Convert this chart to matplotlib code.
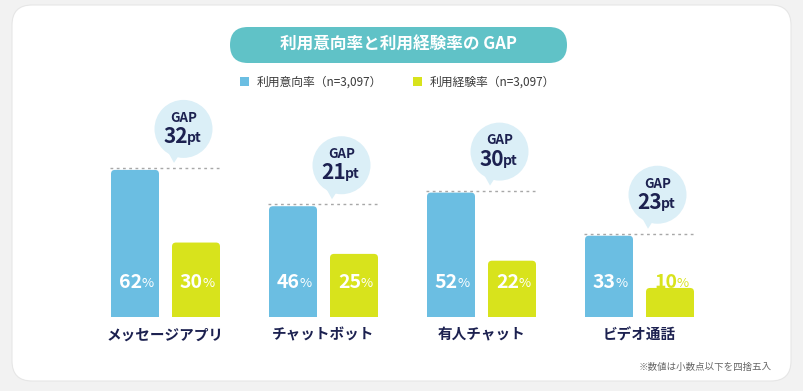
import matplotlib
matplotlib.use("Agg")
import matplotlib.pyplot as plt
from matplotlib.patches import FancyBboxPatch, Ellipse, Polygon, Rectangle

plt.rcParams['font.family'] = ['Noto Sans CJK JP', 'DejaVu Sans']

# ---------------- DATA ----------------
categories = ["メッセージアプリ", "チャットボット", "有人チャット", "ビデオ通話"]
intent = [62, 46, 52, 33]
experience = [30, 25, 22, 10]
gaps = [32, 21, 30, 23]
legend_labels = ["利用意向率（n=3,097）", "利用経験率（n=3,097）"]
title = "利用意向率と利用経験率の GAP"
note = "※数値は小数点以下を四捨五入"
# --------------------------------------

BLUE = "#6BBEE2"
LIME = "#D8E31C"
NAVY = "#1C2150"
TEAL = "#60C2C7"
BUBBLE = "#DBEFF7"

W, H = 804, 391
PXX = 158.0   # px per group
PXY = 2.27    # px per percent
Y0 = -2.8     # data value at the baseline

fig = plt.figure(figsize=(W / 100, H / 100), dpi=100, facecolor="#F2F2F2")

# background card, title pill, legend, note (pixel coordinates)
bg = fig.add_axes([0, 0, 1, 1], zorder=0)
bg.set_xlim(0, W)
bg.set_ylim(H, 0)
bg.axis("off")
bg.add_patch(FancyBboxPatch((12, 5), 779, 376, boxstyle="round,pad=0,rounding_size=20",
                            fc="white", ec="#E6E6E6", lw=0.8))
bg.add_patch(FancyBboxPatch((230, 27), 337, 36, boxstyle="round,pad=0,rounding_size=18",
                            fc=TEAL, ec="none"))
bg.text(398.5, 45, title, color="white", fontsize=12, fontweight="bold",
        ha="center", va="center")
for x0, col, lab in [(240, BLUE, legend_labels[0]), (413, LIME, legend_labels[1])]:
    bg.add_patch(Rectangle((x0, 77), 9, 9, fc=col, ec="none"))
    bg.text(x0 + 17, 82, lab, color="#3A3A3A", fontsize=8.5, ha="left", va="center")
bg.text(772, 367, note, color="#666666", fontsize=6.8, ha="right", va="center")

# main bar axes
left_px, right_px, top_px, base_px = 80, 730, 95, 317
ax = fig.add_axes([left_px / W, (H - base_px) / H, (right_px - left_px) / W, (base_px - top_px) / H],
                  zorder=1)
ax.patch.set_alpha(0)
ax.set_xlim(-(165.5 - left_px) / PXX, (right_px - 165.5) / PXX)
ax.set_ylim(Y0, Y0 + (base_px - top_px) / PXY)
ax.axis("off")

bw = 48 / PXX
off = 30.5 / PXX
ma = (1 / PXY) / (1 / PXX)
label_y = Y0 + 35 / PXY


def bar(x, v, color):
    ax.add_patch(FancyBboxPatch((x - bw / 2, Y0 - 10), bw, v - Y0 + 10,
                                boxstyle="round,pad=0,rounding_size=%f" % (4 / PXX),
                                mutation_aspect=ma, fc=color, ec="none"))


def pct(x, v, color):
    ax.annotate(str(v), (x, label_y), xytext=(5, 0), textcoords="offset points",
                ha="right", va="center", color=color, fontsize=14, fontweight="bold")
    ax.annotate("%", (x, label_y), xytext=(4.5, -0.8), textcoords="offset points",
                ha="left", va="center", color=color, fontsize=9.5)


for i, (a, b, g, cat) in enumerate(zip(intent, experience, gaps, categories)):
    bar(i - off, a, BLUE)
    bar(i + off, b, LIME)
    pct(i - off, a, "white" if a > 20 else BLUE)
    pct(i + off, b, "white" if b > 20 else LIME)

    # dotted gap line
    ax.plot([i - 55.5 / PXX, i + 56.5 / PXX], [a + 2 / PXY] * 2, color="#A8A8A8",
            lw=1, ls=(0, (2, 2.5)), solid_capstyle="butt")

    # speech bubble
    cx, cy = i + 18 / PXX, a + 41 / PXY
    ax.add_patch(Ellipse((cx, cy), 58 / PXX, 58 / PXY, fc=BUBBLE, ec="none"))
    ax.add_patch(Polygon([(i + 3 / PXX, a + 17 / PXY), (i + 15 / PXX, a + 17 / PXY),
                          (i + 8.5 / PXX, a + 7 / PXY)], closed=True, fc=BUBBLE, ec="none"))
    ax.annotate("GAP", (cx, cy), xytext=(0, 8), textcoords="offset points",
                ha="center", va="center", color=NAVY, fontsize=9.5, fontweight="bold")
    ax.annotate(str(g), (cx, cy), xytext=(3, -5.5), textcoords="offset points",
                ha="right", va="center", color=NAVY, fontsize=15, fontweight="bold")
    ax.annotate("pt", (cx, cy), xytext=(2.5, -6.5), textcoords="offset points",
                ha="left", va="center", color=NAVY, fontsize=10, fontweight="bold")

    # category label
    ax.annotate(cat, (i, Y0), xytext=(0, -12.5), textcoords="offset points",
                ha="center", va="center", color=NAVY, fontsize=10.5, fontweight="bold",
                annotation_clip=False)

fig.savefig("out.png", dpi=100, facecolor=fig.get_facecolor())
